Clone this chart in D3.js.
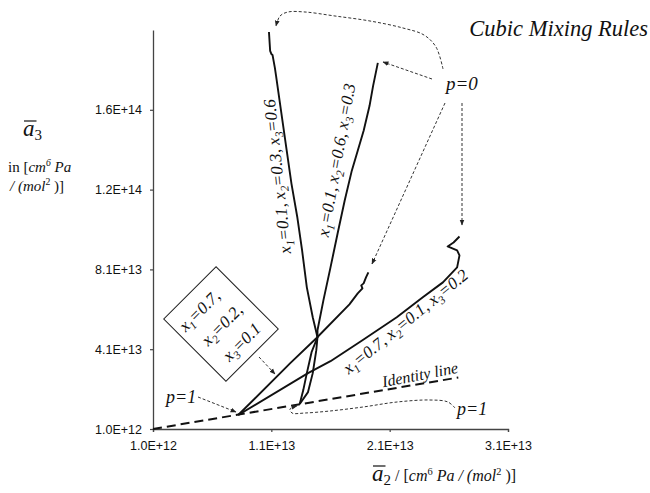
<!DOCTYPE html>
<html>
<head>
<meta charset="utf-8">
<script src="https://cdn.jsdelivr.net/npm/d3@7"></script>
<style>
  body { margin: 0; background: #fff; }
  svg { display: block; }
</style>
</head>
<body>
<svg id="chart" width="650" height="493"></svg>
<script>
// Mixture parameters a2 (x) and a3 (y), in units of 1e12 cm6 Pa / mol2,
// each curve traced from p = 1 (on the identity line) to p = 0.
const E12 = 1e12;

const mix_01_03_06 = [
  [13.4, 13.5], [14.1, 19.5], [14.5, 29], [14.8, 40.5], [14.9, 47],
  [14.5, 57], [14.0, 72], [13.6, 90.5], [13.2, 107], [12.7, 124],
  [12.3, 140.5], [11.7, 165.5], [11.4, 178], [11.3, 182], [11.1, 188.5],
  [11.0, 189], [10.9, 190.5], [10.8, 200]
];

const mix_01_06_03 = [
  [13.4, 13.5], [13.7, 20.5], [14.0, 29], [14.4, 39.5], [14.9, 47],
  [14.9, 50.5], [15.4, 65.5], [16.0, 82], [16.6, 99], [17.2, 115.5],
  [17.8, 130.5], [18.3, 140.5], [18.8, 150.5], [19.3, 163], [19.6, 173],
  [20.0, 184.5]
];

const mix_07_02_01 = [
  [8.2, 8], [12.6, 34], [14.8, 46.5], [17.6, 63.5], [18.3, 69],
  [18.7, 71.5], [18.6, 73], [18.8, 74], [19.0, 77], [19.2, 79.5]
];

const mix_07_01_02 = [
  [8.2, 8], [14.1, 29], [16.0, 35], [18.7, 45.5], [21.6, 57],
  [23.8, 67], [25.5, 74.5], [26.7, 82], [26.9, 88], [26.7, 90.5],
  [25.9, 92.5], [26.4, 94.5], [26.9, 97.5]
];

const identityLine = [[1, 1], [26.8, 26.8]];

const xTickValues = [1, 11, 21, 31];
const xTickLabels = ["1.0E+12", "1.1E+13", "2.1E+13", "3.1E+13"];
const yTickValues = [1, 41, 81, 121, 161];
const yTickLabels = ["1.0E+12", "4.1E+13", "8.1E+13", "1.2E+14", "1.6E+14"];

const serif = "'Liberation Serif', 'Times New Roman', serif";
const sans = "'Liberation Sans', Arial, sans-serif";

const svg = d3.select("#chart");

const x = d3.scaleLinear().domain([1 * E12, 31 * E12]).range([153, 508]);
const y = d3.scaleLinear().domain([1 * E12, 201 * E12]).range([429, 30]);

// ---- axes ----
const xAxis = d3.axisBottom(x)
  .tickValues(xTickValues.map(v => v * E12))
  .tickFormat((d, i) => xTickLabels[i])
  .tickSizeInner(3).tickSizeOuter(3).tickPadding(9);
const yAxis = d3.axisLeft(y)
  .tickValues(yTickValues.map(v => v * E12))
  .tickFormat((d, i) => yTickLabels[i])
  .tickSizeInner(3).tickSizeOuter(0).tickPadding(8);

const gx = svg.append("g").attr("transform", `translate(0,${y(1 * E12)})`).call(xAxis);
const gy = svg.append("g").attr("transform", `translate(${x(1 * E12)},0)`).call(yAxis);
[gx, gy].forEach(g => {
  g.select(".domain").attr("stroke", "#444").attr("stroke-width", 1.3);
  g.selectAll(".tick line").attr("stroke", "#444").attr("stroke-width", 1.2);
  g.selectAll(".tick text").attr("fill", "#111")
    .style("font-family", sans).style("font-size", "12.5px");
});

// ---- arrow marker ----
svg.append("defs").append("marker")
  .attr("id", "arrow").attr("viewBox", "0 0 10 10")
  .attr("refX", 9).attr("refY", 5)
  .attr("markerWidth", 6).attr("markerHeight", 6)
  .attr("markerUnits", "userSpaceOnUse").attr("orient", "auto")
  .append("path").attr("d", "M0,1 L10,5 L0,9 Z").attr("fill", "#222");

// ---- curves ----
const line = d3.line().x(d => x(d[0] * E12)).y(d => y(d[1] * E12));

svg.append("path").datum(identityLine)
  .attr("d", line).attr("fill", "none")
  .attr("stroke", "#111").attr("stroke-width", 2)
  .attr("stroke-dasharray", "9,5");

[mix_01_03_06, mix_01_06_03, mix_07_02_01, mix_07_01_02].forEach(series => {
  svg.append("path").datum(series)
    .attr("d", line).attr("fill", "none")
    .attr("stroke", "#111").attr("stroke-width", 1.9)
    .attr("stroke-linejoin", "round");
});

// ---- dotted pointer arrows ----
const pointer = d3.line().curve(d3.curveCatmullRom.alpha(0.5));
const pointers = [
  [[443, 69], [436, 47], [424, 35], [403, 28], [370, 21], [335, 16], [305, 12], [288, 12], [280, 16], [276, 26]],
  [[432, 79], [383, 62]],
  [[445, 103], [372, 264]],
  [[462, 103], [462, 225]],
  [[198, 397], [236, 412]],
  [[455, 408], [448, 402], [430, 400], [397, 402], [363, 407], [330, 411], [305, 413], [292, 413], [290, 409], [297, 406]],
  [[259, 357], [275, 374]]
];
pointers.forEach(p => {
  svg.append("path").attr("d", pointer(p))
    .attr("fill", "none").attr("stroke", "#333").attr("stroke-width", 1)
    .attr("stroke-dasharray", "3,2")
    .attr("marker-end", "url(#arrow)");
});

// ---- text helpers ----
function italicText(parent, px, py, size) {
  return parent.append("text").attr("x", px).attr("y", py)
    .style("font-family", serif).style("font-style", "italic")
    .style("font-size", size + "px").attr("fill", "#111");
}
function addFractions(t, fracs, size, sep) {
  fracs.forEach((f, i) => {
    t.append("tspan").text("x");
    t.append("tspan").style("font-size", (size * 0.68) + "px").attr("dy", size * 0.25).text(i + 1);
    t.append("tspan").attr("dy", -size * 0.25).text("=" + f + (i < fracs.length - 1 ? sep : ""));
  });
}

// title and pressure labels
italicText(svg, 648, 36, 22.5).attr("text-anchor", "end").text("Cubic Mixing Rules");
italicText(svg, 446, 90, 19).text("p=0");
italicText(svg, 166, 403, 18).text("p=1");
italicText(svg, 457, 415, 18).text("p=1");

// curve labels
const labA = italicText(svg, 0, 0, 17).attr("text-anchor", "middle")
  .attr("transform", "translate(283,176) rotate(-96)");
addFractions(labA, ["0.1", "0.3", "0.6"], 17, ", ");
const labB = italicText(svg, 0, 0, 17).attr("text-anchor", "middle")
  .attr("transform", "translate(342,161) rotate(-80)");
addFractions(labB, ["0.1", "0.6", "0.3"], 17, ", ");
const labD = italicText(svg, 0, 0, 17).attr("text-anchor", "middle")
  .attr("transform", "translate(409,326) rotate(-39)");
addFractions(labD, ["0.7", "0.1", "0.2"], 17, ", ");
italicText(svg, 0, 0, 16).attr("text-anchor", "middle")
  .attr("transform", "translate(421,380) rotate(-11)").text("Identity line");

// boxed composition label
const box = svg.append("g").attr("transform", "translate(221,324) rotate(-45)");
box.append("rect").attr("x", -37).attr("y", -44).attr("width", 74).attr("height", 88)
  .attr("fill", "#fff").attr("stroke", "#222").attr("stroke-width", 1);
[["0.7,", -31, -19], ["0.2,", -25, 7], ["0.1", -21, 33]].forEach((r, i) => {
  const t = italicText(box, r[1], r[2], 17);
  t.append("tspan").text("x");
  t.append("tspan").style("font-size", "11.5px").attr("dy", 4).text(i + 1);
  t.append("tspan").attr("dy", -4).text("=" + r[0]);
});

// ---- axis titles ----
function barSymbol(px, py, sub) {
  const t = italicText(svg, px, py, 23);
  const a = t.append("tspan").text("a");
  t.append("tspan").style("font-style", "normal").style("font-size", "15px")
    .attr("dy", 4).text(sub);
  const w = a.node().getComputedTextLength();
  svg.append("line").attr("x1", px + 1).attr("x2", px + w + 2)
    .attr("y1", py - 15).attr("y2", py - 15)
    .attr("stroke", "#111").attr("stroke-width", 1.2);
}
barSymbol(23, 136, "3");
barSymbol(372, 481, "2");

// unit strings: [text, italic, superscript]
function unitLine(px, py, size, parts) {
  const t = svg.append("text").attr("x", px).attr("y", py)
    .style("font-family", serif).style("font-size", size + "px").attr("fill", "#111");
  const lift = Math.round(size * 0.4);
  let raised = false;
  parts.forEach(p => {
    const s = t.append("tspan").text(p[0]);
    s.style("font-style", p[1] ? "italic" : "normal");
    if (p[2]) {
      s.style("font-size", (size * 0.65) + "px").attr("dy", -lift);
      raised = true;
    } else {
      s.style("font-size", size + "px");
      if (raised) { s.attr("dy", lift); raised = false; }
    }
  });
  return t;
}
unitLine(8, 172, 15, [["in [", false], ["cm", true], ["6", true, true], [" Pa", true]]);
unitLine(10, 191, 15, [["/ (", true], ["mol", true], ["2", false, true], [" )]", false]]);
unitLine(395, 481, 16, [["/ [", false], ["cm", true], ["6", false, true], [" Pa / (", true],
  ["mol", true], ["2", false, true], [" )]", false]]);
</script>
</body>
</html>
